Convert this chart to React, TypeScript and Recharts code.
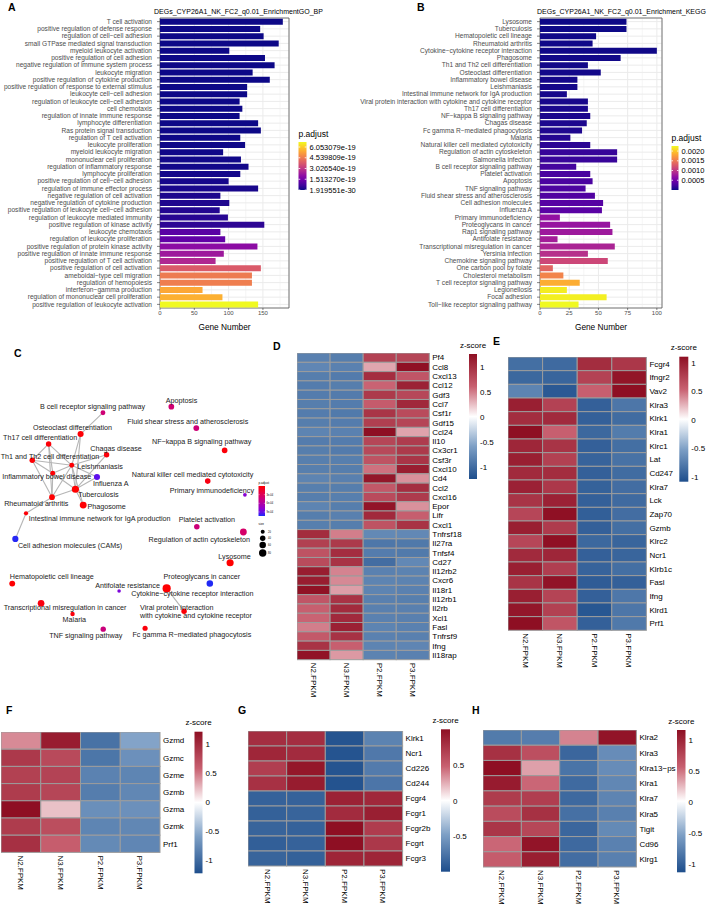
import React from 'react'
import { BarChart, Bar, Cell, XAxis, YAxis, CartesianGrid, ReferenceArea, ScatterChart, Scatter } from 'recharts'

const FONT = '"Liberation Sans", Arial, Helvetica, sans-serif'
const SAMPLES = ['N2.FPKM', 'N3.FPKM', 'P2.FPKM', 'P3.FPKM']

// ---------- A: GO BP enrichment ----------
const GO_TERMS = [
  'T cell activation', 'positive regulation of defense response', 'regulation of cell−cell adhesion',
  'small GTPase mediated signal transduction', 'myeloid leukocyte activation', 'positive regulation of cell adhesion',
  'negative regulation of immune system process', 'leukocyte migration', 'positive regulation of cytokine production',
  'positive regulation of response to external stimulus', 'leukocyte cell−cell adhesion',
  'regulation of leukocyte cell−cell adhesion', 'cell chemotaxis', 'regulation of innate immune response',
  'lymphocyte differentiation', 'Ras protein signal transduction', 'regulation of T cell activation',
  'leukocyte proliferation', 'myeloid leukocyte migration', 'mononuclear cell proliferation',
  'regulation of inflammatory response', 'lymphocyte proliferation', 'positive regulation of cell−cell adhesion',
  'regulation of immune effector process', 'negative regulation of cell activation',
  'negative regulation of cytokine production', 'positive regulation of leukocyte cell−cell adhesion',
  'regulation of leukocyte mediated immunity', 'positive regulation of kinase activity', 'leukocyte chemotaxis',
  'regulation of leukocyte proliferation', 'positive regulation of protein kinase activity',
  'positive regulation of innate immune response', 'positive regulation of T cell activation',
  'positive regulation of cell activation', 'ameboidal−type cell migration', 'regulation of hemopoiesis',
  'interferon−gamma production', 'regulation of mononuclear cell proliferation',
  'positive regulation of leukocyte activation',
]
const GO_COUNTS = [
  179, 146, 151, 173, 101, 153, 167, 135, 160, 127, 127, 116, 120, 116, 143, 147, 117, 124, 92, 118,
  129, 117, 100, 143, 88, 101, 87, 99, 152, 88, 95, 142, 93, 81, 147, 134, 134, 62, 91, 143,
]
const GO_PADJ = [
  1.92e-30, 8.7e-30, 3.1e-29, 1.2e-28, 6.4e-28, 2.3e-27, 8.9e-27, 4.1e-26, 1.5e-25, 5.2e-25,
  1.8e-24, 6.6e-24, 2.4e-23, 7.9e-23, 2.1e-22, 5.8e-22, 1.3e-21, 2.6e-21, 4.4e-21, 6.1e-21,
  7.9e-21, 9.6e-21, 1.2e-20, 1.5e-20, 1.9e-20, 2.3e-20, 2.8e-20, 3.4e-20, 4.1e-20, 1.08e-19,
  1.22e-19, 1.98e-19, 2.3e-19, 2.66e-19, 3.83e-19, 4.55e-19, 4.6e-19, 5.42e-19, 5.58e-19, 6.76e-19,
]
const GO_PADJ_RANGE = [1.919551e-30, 6.76e-19]
const GO_PADJ_BREAKS = [6.053079e-19, 4.539809e-19, 3.02654e-19, 1.51327e-19, 1.919551e-30]
const GO_PADJ_LABELS = ['6.053079e-19', '4.539809e-19', '3.026540e-19', '1.513270e-19', '1.919551e-30']
const GO_X_TICKS = [0, 50, 100, 150]
const GO_X_MINOR = [25, 75, 125, 175]
const GO_X_MAX = 188

// ---------- B: KEGG enrichment ----------
const KEGG_TERMS = [
  'Lysosome', 'Tuberculosis', 'Hematopoietic cell lineage', 'Rheumatoid arthritis',
  'Cytokine−cytokine receptor interaction', 'Phagosome', 'Th1 and Th2 cell differentiation',
  'Osteoclast differentiation', 'Inflammatory bowel disease', 'Leishmaniasis',
  'Intestinal immune network for IgA production', 'Viral protein interaction with cytokine and cytokine receptor',
  'Th17 cell differentiation', 'NF−kappa B signaling pathway', 'Chagas disease', 'Fc gamma R−mediated phagocytosis',
  'Malaria', 'Natural killer cell mediated cytotoxicity', 'Regulation of actin cytoskeleton', 'Salmonella infection',
  'B cell receptor signaling pathway', 'Platelet activation', 'Apoptosis', 'TNF signaling pathway',
  'Fluid shear stress and atherosclerosis', 'Cell adhesion molecules', 'Influenza A', 'Primary immunodeficiency',
  'Proteoglycans in cancer', 'Rap1 signaling pathway', 'Antifolate resistance', 'Transcriptional misregulation in cancer',
  'Yersinia infection', 'Chemokine signaling pathway', 'One carbon pool by folate', 'Cholesterol metabolism',
  'T cell receptor signaling pathway', 'Legionellosis', 'Focal adhesion', 'Toll−like receptor signaling pathway',
]
const KEGG_COUNTS = [
  74, 74, 48, 45, 100, 69, 41, 52, 32, 32, 23, 41, 41, 43, 40, 36, 26, 43, 66, 66,
  31, 43, 45, 39, 47, 54, 53, 17, 60, 62, 15, 64, 41, 58, 11, 20, 34, 23, 57, 33,
]
const KEGG_PADJ = [
  2.1e-9, 4.8e-9, 1.1e-5, 1.2e-5, 1.3e-5, 2.3e-5, 2.4e-5, 2.8e-5, 3.4e-5, 3.5e-5,
  4.5e-5, 4.6e-5, 5.7e-5, 6.6e-5, 6.9e-5, 7.9e-5, 1.02e-4, 1.36e-4, 1.81e-4, 1.92e-4,
  2.49e-4, 2.71e-4, 2.83e-4, 2.94e-4, 3.16e-4, 3.39e-4, 3.62e-4, 7.01e-4, 7.23e-4, 7.68e-4,
  8.14e-4, 8.59e-4, 9.49e-4, 1.13e-3, 1.36e-3, 1.58e-3, 1.85e-3, 2.19e-3, 2.21e-3, 2.26e-3,
]
const KEGG_PADJ_RANGE = [0, 2.26e-3]
const KEGG_PADJ_BREAKS = [0.002, 0.0015, 0.001, 0.0005]
const KEGG_PADJ_LABELS = ['0.0020', '0.0015', '0.0010', '0.0005']
const KEGG_X_TICKS = [0, 25, 50, 75, 100]
const KEGG_X_MINOR = [12.5, 37.5, 62.5, 87.5]
const KEGG_X_MAX = 104.4

// ---------- C: KEGG term network ----------
const NET_IDS = [
  'bcr', 'apop', 'fss', 'osteo', 'th17', 'nfkb', 'chagas', 'th12', 'leish', 'ibd', 'flu', 'nk', 'tb', 'pid', 'ra',
  'phago', 'iga', 'plt', 'actin', 'cams', 'lyso', 'hema', 'pgc', 'anti', 'cyto', 'tmc', 'viral', 'malaria', 'fcg', 'tnf',
]
const NET_LABELS = [
  'B cell receptor signaling pathway', 'Apoptosis', 'Fluid shear stress and atherosclerosis',
  'Osteoclast differentiation', 'Th17 cell differentiation', 'NF−kappa B signaling pathway', 'Chagas disease',
  'Th1 and Th2 cell differentiation', 'Leishmaniasis', 'Inflammatory bowel disease', 'Influenza A',
  'Natural killer cell mediated cytotoxicity', 'Tuberculosis', 'Primary immunodeficiency', 'Rheumatoid arthritis',
  'Phagosome', 'Intestinal immune network for IgA production', 'Platelet activation',
  'Regulation of actin cytoskeleton', 'Cell adhesion molecules (CAMs)', 'Lysosome', 'Hematopoietic cell lineage',
  'Proteoglycans in cancer', 'Antifolate resistance', 'Cytokine−cytokine receptor interaction',
  'Transcriptional misregulation in cancer', 'Viral protein interaction\nwith cytokine and cytokine receptor',
  'Malaria', 'Fc gamma R−mediated phagocytosis', 'TNF signaling pathway',
]
const NET_X = [39.6, 65.9, 75.5, 31.0, 18.7, 86.4, 41.0, 12.4, 27.6, 20.3, 37.3, 79.9, 29.0, 94.2, 20.0,
  32.0, 10.0, 75.7, 93.6, 5.9, 88.5, 4.7, 80.7, 45.8, 64.1, 15.8, 70.8, 27.9, 55.8, 39.7]
const NET_Y = [5.3, 2.8, 11.7, 14.2, 18.3, 21.0, 22.8, 25.1, 27.2, 30.5, 32.1, 33.8, 37.2, 39.5, 40.5,
  43.8, 47.2, 52.8, 55.0, 57.9, 67.8, 76.5, 76.5, 79.6, 78.5, 84.7, 88.0, 89.2, 95.1, 95.5]
const NET_COUNT = [31, 45, 47, 52, 41, 43, 40, 41, 32, 32, 53, 43, 74, 17, 45, 69, 23, 42, 66, 54,
  74, 48, 60, 15, 100, 64, 41, 26, 36, 39]
const NET_PADJ = [4.1e-4, 4.0e-4, 4.2e-4, 2.0e-5, 2.5e-5, 3.0e-5, 3.2e-5, 1.2e-5, 1.5e-5, 1.5e-5, 9.3e-4, 6.0e-5,
  2.0e-7, 8.0e-4, 6.0e-6, 1.1e-5, 2.0e-5, 4.3e-4, 3.6e-4, 1.02e-3, 1.0e-7, 5.0e-6, 1.03e-3, 8.3e-4, 6.0e-6,
  5.0e-5, 2.0e-5, 4.0e-5, 3.5e-5, 4.4e-4]
const NET_EDGES = [
  ['bcr', 'osteo'], ['osteo', 'leish'], ['osteo', 'tb'], ['th17', 'th12'], ['th17', 'leish'], ['th17', 'ibd'],
  ['th17', 'ra'], ['th12', 'leish'], ['th12', 'ibd'], ['th12', 'ra'], ['leish', 'ibd'], ['leish', 'tb'],
  ['leish', 'chagas'], ['leish', 'phago'], ['leish', 'ra'], ['leish', 'flu'], ['ibd', 'tb'], ['ibd', 'ra'],
  ['tb', 'phago'], ['tb', 'ra'], ['tb', 'flu'], ['chagas', 'tb'], ['ra', 'iga'], ['iga', 'cams'], ['cyto', 'viral'],
]
const NET_PADJ_RANGE = [0, 1.04e-3]
const NET_PADJ_BREAKS = [3e-4, 6e-4, 9e-4]
const NET_SIZE_BREAKS = [20, 40, 60, 80]

// ---------- D–H: row z-score heatmaps (N2, N3, P2, P3) ----------
const D_GENES = ['Pf4', 'Ccl8', 'Cxcl13', 'Ccl12', 'Gdf3', 'Ccl7', 'Csf1r', 'Gdf15', 'Ccl24', 'Il10', 'Cx3cr1',
  'Csf3r', 'Cxcl10', 'Cd4', 'Ccl2', 'Cxcl16', 'Epor', 'Lifr', 'Cxcl1', 'Tnfrsf18', 'Il27ra', 'Tnfsf4', 'Cd27',
  'Il12rb2', 'Cxcr6', 'Il18r1', 'Il12rb1', 'Il2rb', 'Xcl1', 'Fasl', 'Tnfrsf9', 'Ifng', 'Il18rap']
const D_Z = [
  [-0.82, -0.85, 0.85, 0.82], [-0.78, -0.82, 0.35, 1.25], [-0.85, -0.87, 1.02, 0.7], [-0.86, -0.85, 0.6, 1.11],
  [-0.86, -0.87, 0.92, 0.81], [-0.85, -0.86, 0.65, 1.06], [-0.86, -0.88, 0.96, 0.78], [-0.85, -0.86, 0.88, 0.83],
  [-0.8, -0.82, 1.26, 0.36], [-0.86, -0.86, 0.82, 0.9], [-0.85, -0.87, 0.8, 0.92], [-0.84, -0.84, 0.72, 0.96],
  [-0.84, -0.85, 0.55, 1.14], [-0.8, -0.83, 1.2, 0.43], [-0.84, -0.85, 0.68, 1.01], [-0.85, -0.84, 0.78, 0.91],
  [-0.8, -0.85, 1.22, 0.43], [-0.85, -0.83, 1.05, 0.63], [-0.84, -0.85, 0.72, 0.97],
  [1.03, 0.5, -0.76, -0.77], [0.87, 0.92, -0.9, -0.89], [0.72, 1.02, -0.86, -0.88], [0.78, 0.97, -0.98, -0.77],
  [1.15, 0.48, -0.82, -0.81], [1.15, 0.46, -0.8, -0.81], [1.24, 0.38, -0.8, -0.82], [0.7, 0.97, -0.83, -0.84],
  [0.62, 1.04, -0.83, -0.83], [0.6, 1.05, -0.82, -0.83], [0.5, 1.12, -0.8, -0.82], [0.67, 0.98, -0.82, -0.83],
  [0.97, 0.62, -0.8, -0.79], [1.23, 0.4, -0.81, -0.82],
]
const D_RANGE = [-1.23, 1.26]

const E_GENES = ['Fcgr4', 'Ifngr2', 'Vav2', 'Klra3', 'Klrk1', 'Klra1', 'Klrc1', 'Lat', 'Cd247', 'Klra7', 'Lck',
  'Zap70', 'Gzmb', 'Klrc2', 'Ncr1', 'Klrb1c', 'Fasl', 'Ifng', 'Klrd1', 'Prf1']
const E_Z = [
  [-0.85, -0.88, 0.9, 0.83], [-0.9, -0.92, 0.75, 1.07], [-0.7, -1.0, 0.55, 1.11], [1.0, 0.75, -0.95, -0.8],
  [0.9, 0.92, -0.95, -0.87], [1.11, 0.55, -0.9, -0.76], [0.95, 0.85, -0.95, -0.85], [1.0, 0.76, -0.93, -0.83],
  [0.92, 0.9, -0.95, -0.87], [0.98, 0.82, -0.94, -0.86], [0.85, 0.98, -0.95, -0.88], [0.72, 1.1, -0.96, -0.86],
  [1.0, 0.8, -0.95, -0.85], [0.72, 1.1, -0.9, -0.92], [0.92, 0.95, -0.95, -0.92], [1.0, 0.78, -0.93, -0.85],
  [0.85, 1.08, -0.98, -0.95], [1.0, 0.74, -0.95, -0.79], [1.06, 0.76, -1.02, -0.8], [1.11, 0.62, -0.95, -0.78],
]
const E_RANGE = [-1.08, 1.11]

const F_GENES = ['Gzmd', 'Gzmc', 'Gzme', 'Gzmb', 'Gzma', 'Gzmk', 'Prf1']
const F_Z = [
  [0.42, 1.1, -0.95, -0.57], [0.88, 0.75, -0.92, -0.71], [0.82, 0.8, -0.82, -0.8], [0.86, 0.78, -0.86, -0.78],
  [1.21, 0.22, -0.72, -0.71], [0.86, 0.72, -0.8, -0.78], [0.95, 0.6, -0.76, -0.79],
]
const F_RANGE = [-1.23, 1.21]

const G_GENES = ['Klrk1', 'Ncr1', 'Cd226', 'Cd244', 'Fcgr4', 'Fcgr1', 'Fcgr2b', 'Fcgrt', 'Fcgr3']
const G_Z = [
  [0.8, 0.8, -0.95, -0.65], [0.85, 0.82, -0.95, -0.72], [0.7, 0.95, -0.95, -0.7], [0.78, 0.92, -0.96, -0.74],
  [-0.86, -0.86, 0.88, 0.84], [-0.87, -0.85, 0.82, 0.9], [-0.85, -0.86, 1.0, 0.71], [-0.88, -0.86, 1.0, 0.74],
  [-0.85, -0.87, 0.86, 0.86],
]
const G_RANGE = [-0.99, 1.0]

const H_GENES = ['Klra2', 'Klra3', 'Klra13−ps', 'Klra1', 'Klra7', 'Klra5', 'Tigit', 'Cd96', 'Klrg1']
const H_Z = [
  [-0.8, -0.78, 0.45, 1.13], [0.92, 0.7, -0.95, -0.67], [1.17, 0.35, -0.85, -0.67], [1.08, 0.55, -0.92, -0.71],
  [0.84, 0.82, -0.93, -0.73], [0.72, 0.92, -0.88, -0.76], [0.88, 0.76, -0.95, -0.69], [0.55, 1.13, -0.93, -0.75],
  [0.6, 1.06, -0.9, -0.76],
]
const H_RANGE = [-1.13, 1.17]

const Z_TICKS = [1, 0.5, 0, -0.5, -1]

// ---------- colour ramps ----------
type Stop = [number, string]
const PLASMA: Stop[] = [[0, '#0d0887'], [0.1, '#41049d'], [0.2, '#6a00a8'], [0.3, '#8f0da4'], [0.4, '#b12a90'],
  [0.5, '#cc4778'], [0.6, '#e16462'], [0.7, '#f2844b'], [0.8, '#fca636'], [0.9, '#fcce25'], [1, '#f0f921']]
const HEAT: Stop[] = [[0, '#1e4e8c'], [0.26, '#7d9fc5'], [0.5, '#ffffff'], [0.74, '#c86070'], [1, '#8e0f23']]
const NET_RAMP: Stop[] = [[0, '#ff0000'], [0.25, '#e2004f'], [0.5, '#c0008f'], [0.75, '#8e00cf'], [0.9, '#5a10ee'], [1, '#1a2cf5']]

const hexRgb = (h: string) => [1, 3, 5].map(i => parseInt(h.slice(i, i + 2), 16))
function ramp(stops: Stop[], t: number) {
  const tt = Math.max(0, Math.min(1, t))
  for (let i = 1; i < stops.length; i++) {
    if (tt <= stops[i][0]) {
      const [t0, c0] = stops[i - 1]
      const [t1, c1] = stops[i]
      const f = (tt - t0) / (t1 - t0)
      const a = hexRgb(c0)
      const b = hexRgb(c1)
      return `rgb(${a.map((v, k) => Math.round(v + (b[k] - v) * f)).join(',')})`
    }
  }
  return stops[stops.length - 1][1]
}
const norm = (v: number, r: number[]) => (v - r[0]) / (r[1] - r[0])

// ---------- A / B bar panels ----------
const TermTick = ({ x, y, payload }: any) => (
  <text x={x} y={y} dy="0.35em" textAnchor="end" fontSize={6.6} fill="#4d4d4d">{payload.value}</text>
)

function EnrichBars({ terms, counts, padj, prange, xmax, ticks, minor, width, yWidth, right }: any) {
  const data = terms.map((term: string, i: number) => ({ term, count: counts[i], p: padj[i] }))
  return (
    <BarChart layout="vertical" width={width} height={336} data={data}
      margin={{ top: 18, right, bottom: 0, left: 0 }} barCategoryGap="10%">
      <CartesianGrid stroke="#ebebeb" strokeWidth={0.5} horizontal={false} verticalValues={minor} />
      <CartesianGrid stroke="#ebebeb" strokeWidth={1} />
      <XAxis type="number" domain={[0, xmax]} ticks={ticks} allowDataOverflow height={28}
        tick={{ fontSize: 6, fill: '#4d4d4d' }} tickSize={2} tickMargin={1} axisLine={false}
        tickLine={{ stroke: '#333', strokeWidth: 0.6 }}
        label={{ value: 'Gene Number', position: 'insideBottom', offset: 6, fontSize: 8.3, fill: '#000' }} />
      <YAxis type="category" dataKey="term" width={yWidth} interval={0} tick={(p: any) => <TermTick {...p} />}
        tickSize={3} tickMargin={5} axisLine={false} tickLine={{ stroke: '#333', strokeWidth: 0.6 }} />
      <Bar dataKey="count" isAnimationActive={false}>
        {data.map((d: any, i: number) => <Cell key={i} fill={ramp(PLASMA, norm(d.p, prange))} />)}
      </Bar>
      <ReferenceArea x1={0} x2={xmax} fill="none" fillOpacity={0} stroke="#555" strokeWidth={0.8} ifOverflow="visible" />
    </BarChart>
  )
}

// ---------- C network ----------
const LABEL_OFFSETS: Record<string, number[]> = {
  bcr: [-10.5, -6.7], apop: [10.2, -6], fss: [-8.5, -6.3], osteo: [-8, -6.3], th17: [-8.5, -6.3],
  nfkb: [-23, -8.6], chagas: [9.5, -6.4], th12: [17.7, -3.6], leish: [28.3, 1.4], ibd: [-6, 3.4],
  flu: [13.7, 6.3], nk: [-15.2, -6.7], tb: [23, 4.7], pid: [-33, -4.4], ra: [-15.7, 6], phago: [23.4, 1.7],
  iga: [73.7, 5.4], plt: [10, -7.7], actin: [-44, 7.3], cams: [54.7, 7], lyso: [4.5, -6], hema: [39.5, -7],
  pgc: [-8, -7], anti: [8.5, -5.3], cyto: [25.7, 5], tmc: [24, 4.4], viral: [-44, -1.5], malaria: [1.8, 5.3],
  fcg: [46.8, 6], tnf: [-17.5, 6.4],
}
const nodeR = (count: number) => 0.3 + 0.38 * Math.sqrt(count)

const NodeDot = ({ cx, cy, payload }: any) => (
  <circle cx={cx} cy={cy} r={nodeR(payload.count)} fill={ramp(NET_RAMP, norm(payload.p, NET_PADJ_RANGE))} />
)
const NodeLabel = ({ cx, cy, payload }: any) => {
  const [dx, dy] = LABEL_OFFSETS[payload.id] || [0, -6]
  const lines = payload.label.split('\n')
  if (lines.length > 1) {
    return (
      <text x={cx + dx} y={cy + dy} fontSize={7.2} fill="#222" textAnchor="start">
        {lines.map((l: string, i: number) => <tspan key={i} x={cx + dx} dy={i === 0 ? 0 : 8.7}>{l}</tspan>)}
      </text>
    )
  }
  return <text x={cx + dx} y={cy + dy} dy="0.35em" textAnchor="middle" fontSize={7.2} fill="#222">{lines[0]}</text>
}

function Network() {
  const nodes = NET_IDS.map((id, i) => ({ id, label: NET_LABELS[i], x: NET_X[i], y: NET_Y[i], count: NET_COUNT[i], p: NET_PADJ[i] }))
  const byId: Record<string, any> = Object.fromEntries(nodes.map(n => [n.id, n]))
  return (
    <ScatterChart width={260} height={264} margin={{ top: 0, right: 0, bottom: 0, left: 0 }}>
      <XAxis type="number" dataKey="x" domain={[0, 100]} hide />
      <YAxis type="number" dataKey="y" domain={[-5, 105]} reversed hide />
      {NET_EDGES.map(([a, b], i) => (
        <Scatter key={'e' + i} data={[byId[a], byId[b]]} line={{ stroke: '#b5b5b5', strokeWidth: 1.1 }}
          shape={() => <g />} isAnimationActive={false} />
      ))}
      <Scatter data={nodes} shape={(p: any) => <NodeDot {...p} />} isAnimationActive={false} />
      <Scatter data={nodes} shape={(p: any) => <NodeLabel {...p} />} isAnimationActive={false} />
    </ScatterChart>
  )
}

// ---------- heatmaps ----------
const ColTick = ({ x, y, payload }: any) => (
  <text x={x} y={y} dy="0.35em" transform={`rotate(90 ${x} ${y})`} textAnchor="start" fontSize={8} fill="#000">
    {payload.value}
  </text>
)
const GeneTick = ({ x, y, payload }: any) => (
  <text x={x} y={y} dy="0.35em" textAnchor="start" fontSize={8} fill="#000">{payload.value}</text>
)

function Heatmap({ genes, z, range, left, top, w, h }: any) {
  const data = genes.flatMap((gene: string, i: number) => SAMPLES.map((sample, j) => ({ gene, sample, z: z[i][j] })))
  const cw = w / SAMPLES.length
  const ch = h / genes.length
  return (
    <div style={{ position: 'absolute', left, top }}>
      <ScatterChart width={w + 55} height={h + 42} margin={{ top: 0, right: 0, bottom: 0, left: 0 }}>
        <XAxis type="category" dataKey="sample" allowDuplicatedCategory={false} height={42} axisLine={false}
          tickLine={false} tickSize={0} tickMargin={3} interval={0} tick={(p: any) => <ColTick {...p} />} />
        <YAxis type="category" dataKey="gene" allowDuplicatedCategory={false} orientation="right" width={55} reversed
          axisLine={false} tickLine={false} tickSize={0} tickMargin={3} interval={0} tick={(p: any) => <GeneTick {...p} />} />
        <Scatter data={data} isAnimationActive={false}
          shape={(p: any) => (
            <rect x={p.cx - cw / 2} y={p.cy - ch / 2} width={cw} height={ch}
              fill={ramp(HEAT, norm(p.payload.z, range))} stroke="#9c9c9c" strokeWidth={1} />
          )} />
      </ScatterChart>
    </div>
  )
}

// ---------- legends ----------
function Grad({ id, stops, down }: { id: string; stops: Stop[]; down?: boolean }) {
  return (
    <linearGradient id={id} x1="0" y1={down ? '0' : '1'} x2="0" y2={down ? '1' : '0'}>
      {stops.map(([t, c]) => <stop key={t} offset={t} stopColor={c} />)}
    </linearGradient>
  )
}

function PLegend({ x, y, w, h, range, breaks, labels, grad }: any) {
  const yOf = (v: number) => y + (1 - norm(v, range)) * h
  return (
    <g>
      <text x={x} y={y - 5} fontSize={8.5} fill="#000">p.adjust</text>
      <rect x={x} y={y} width={w} height={h} fill={`url(#${grad})`} />
      {breaks.map((b: number, i: number) => (
        <g key={i}>
          <line x1={x} x2={x + w * 0.22} y1={yOf(b)} y2={yOf(b)} stroke="#fff" strokeWidth={0.8} />
          <line x1={x + w * 0.78} x2={x + w} y1={yOf(b)} y2={yOf(b)} stroke="#fff" strokeWidth={0.8} />
          <text x={x + w + 3} y={yOf(b)} dy="0.35em" fontSize={7.5} fill="#000">{labels[i]}</text>
        </g>
      ))}
    </g>
  )
}

function ZLegend({ x, y, w, h, range, ticks }: any) {
  const yOf = (v: number) => y + (1 - norm(v, range)) * h
  return (
    <g>
      <text x={x + w / 2} y={y - 6.5} textAnchor="middle" fontSize={8} fill="#000">z-score</text>
      <rect x={x} y={y} width={w} height={h} fill="url(#gHeat)" />
      {ticks.map((t: number) => (
        <text key={t} x={x + w + 3} y={yOf(t)} dy="0.35em" fontSize={8} fill="#000">{String(t)}</text>
      ))}
    </g>
  )
}

function NetLegend() {
  const x = 258.5, y = 486, w = 6.5, h = 30
  const yOf = (v: number) => y + norm(v, NET_PADJ_RANGE) * h
  return (
    <g>
      <text x={x} y={y - 2} fontSize={3} fill="#000">p.adjust</text>
      <rect x={x} y={y} width={w} height={h} fill="url(#gNet)" />
      {NET_PADJ_BREAKS.map(b => (
        <g key={b}>
          <line x1={x} x2={x + 1.2} y1={yOf(b)} y2={yOf(b)} stroke="#fff" strokeWidth={0.4} />
          <line x1={x + w - 1.2} x2={x + w} y1={yOf(b)} y2={yOf(b)} stroke="#fff" strokeWidth={0.4} />
          <text x={x + w + 1.5} y={yOf(b)} dy="0.35em" fontSize={2.6} fill="#000">{b.toExponential(0).replace('e-4', 'e-04')}</text>
        </g>
      ))}
      <text x={x} y={525} fontSize={3} fill="#000">size</text>
      {NET_SIZE_BREAKS.map((s, i) => {
        const cy = [531.7, 538.2, 545, 553][i]
        return (
          <g key={s}>
            <circle cx={262.7} cy={cy} r={nodeR(s)} fill="#000" />
            <text x={268} y={cy} dy="0.35em" fontSize={2.6} fill="#000">{s}</text>
          </g>
        )
      })}
    </g>
  )
}

export default function App() {
  return (
    <div style={{ position: 'absolute', left: 0, top: 0, width: 709, height: 906, background: '#fff', fontFamily: FONT, overflow: 'hidden' }}>
      <div style={{ position: 'absolute', left: 0, top: 0 }}>
        <EnrichBars terms={GO_TERMS} counts={GO_COUNTS} padj={GO_PADJ} prange={GO_PADJ_RANGE} xmax={GO_X_MAX}
          ticks={GO_X_TICKS} minor={GO_X_MINOR} width={295} yWidth={160} right={6} />
      </div>
      <div style={{ position: 'absolute', left: 350, top: 0 }}>
        <EnrichBars terms={KEGG_TERMS} counts={KEGG_COUNTS} padj={KEGG_PADJ} prange={KEGG_PADJ_RANGE} xmax={KEGG_X_MAX}
          ticks={KEGG_X_TICKS} minor={KEGG_X_MINOR} width={318} yWidth={190} right={6} />
      </div>
      <div style={{ position: 'absolute', left: 0, top: 388 }}>
        <Network />
      </div>
      <Heatmap genes={D_GENES} z={D_Z} range={D_RANGE} left={297} top={353.3} w={132.3} h={306.7} />
      <Heatmap genes={E_GENES} z={E_Z} range={E_RANGE} left={508.3} top={356.7} w={138.4} h={273.3} />
      <Heatmap genes={F_GENES} z={F_Z} range={F_RANGE} left={0.5} top={732} w={159} h={120.4} />
      <Heatmap genes={G_GENES} z={G_Z} range={G_RANGE} left={247.7} top={730.8} w={154.6} h={135} />
      <Heatmap genes={H_GENES} z={H_Z} range={H_RANGE} left={483} top={730} w={153.4} h={137} />

      <svg width={709} height={906} style={{ position: 'absolute', left: 0, top: 0, pointerEvents: 'none' }} fontFamily={FONT}>
        <defs>
          <Grad id="gPlasma" stops={PLASMA} />
          <Grad id="gHeat" stops={HEAT} />
          <Grad id="gNet" stops={NET_RAMP} down />
        </defs>
        <g fontSize={10.5} fontWeight="bold" fill="#000">
          <text x={8} y={10.5}>A</text>
          <text x={417} y={10.5}>B</text>
          <text x={14} y={356.5}>C</text>
          <text x={273} y={350}>D</text>
          <text x={493} y={345}>E</text>
          <text x={6} y={714}>F</text>
          <text x={238} y={714}>G</text>
          <text x={472} y={714}>H</text>
        </g>
        <text x={154} y={14.3} fontSize={7} fill="#000">DEGs_CYP26A1_NK_FC2_q0.01_EnrichmentGO_BP</text>
        <text x={537} y={14.3} fontSize={7} fill="#000">DEGs_CYP26A1_NK_FC2_q0.01_Enrichment_KEGG</text>
        <PLegend x={298.5} y={142} w={8} h={48} range={GO_PADJ_RANGE} breaks={GO_PADJ_BREAKS} labels={GO_PADJ_LABELS} grad="gPlasma" />
        <PLegend x={671.5} y={146} w={7} h={44} range={KEGG_PADJ_RANGE} breaks={KEGG_PADJ_BREAKS} labels={KEGG_PADJ_LABELS} grad="gPlasma" />
        <NetLegend />
        <ZLegend x={469} y={354} w={8} h={125} range={D_RANGE} ticks={Z_TICKS} />
        <ZLegend x={679.3} y={356.7} w={9} h={125} range={E_RANGE} ticks={Z_TICKS} />
        <ZLegend x={194.5} y={731.7} w={8} h={141.6} range={F_RANGE} ticks={Z_TICKS} />
        <ZLegend x={441} y={729.3} w={9} h={142.4} range={G_RANGE} ticks={[0.5, 0, -0.5]} />
        <ZLegend x={677} y={730} w={8.5} h={142.3} range={H_RANGE} ticks={Z_TICKS} />
      </svg>
    </div>
  )
}
